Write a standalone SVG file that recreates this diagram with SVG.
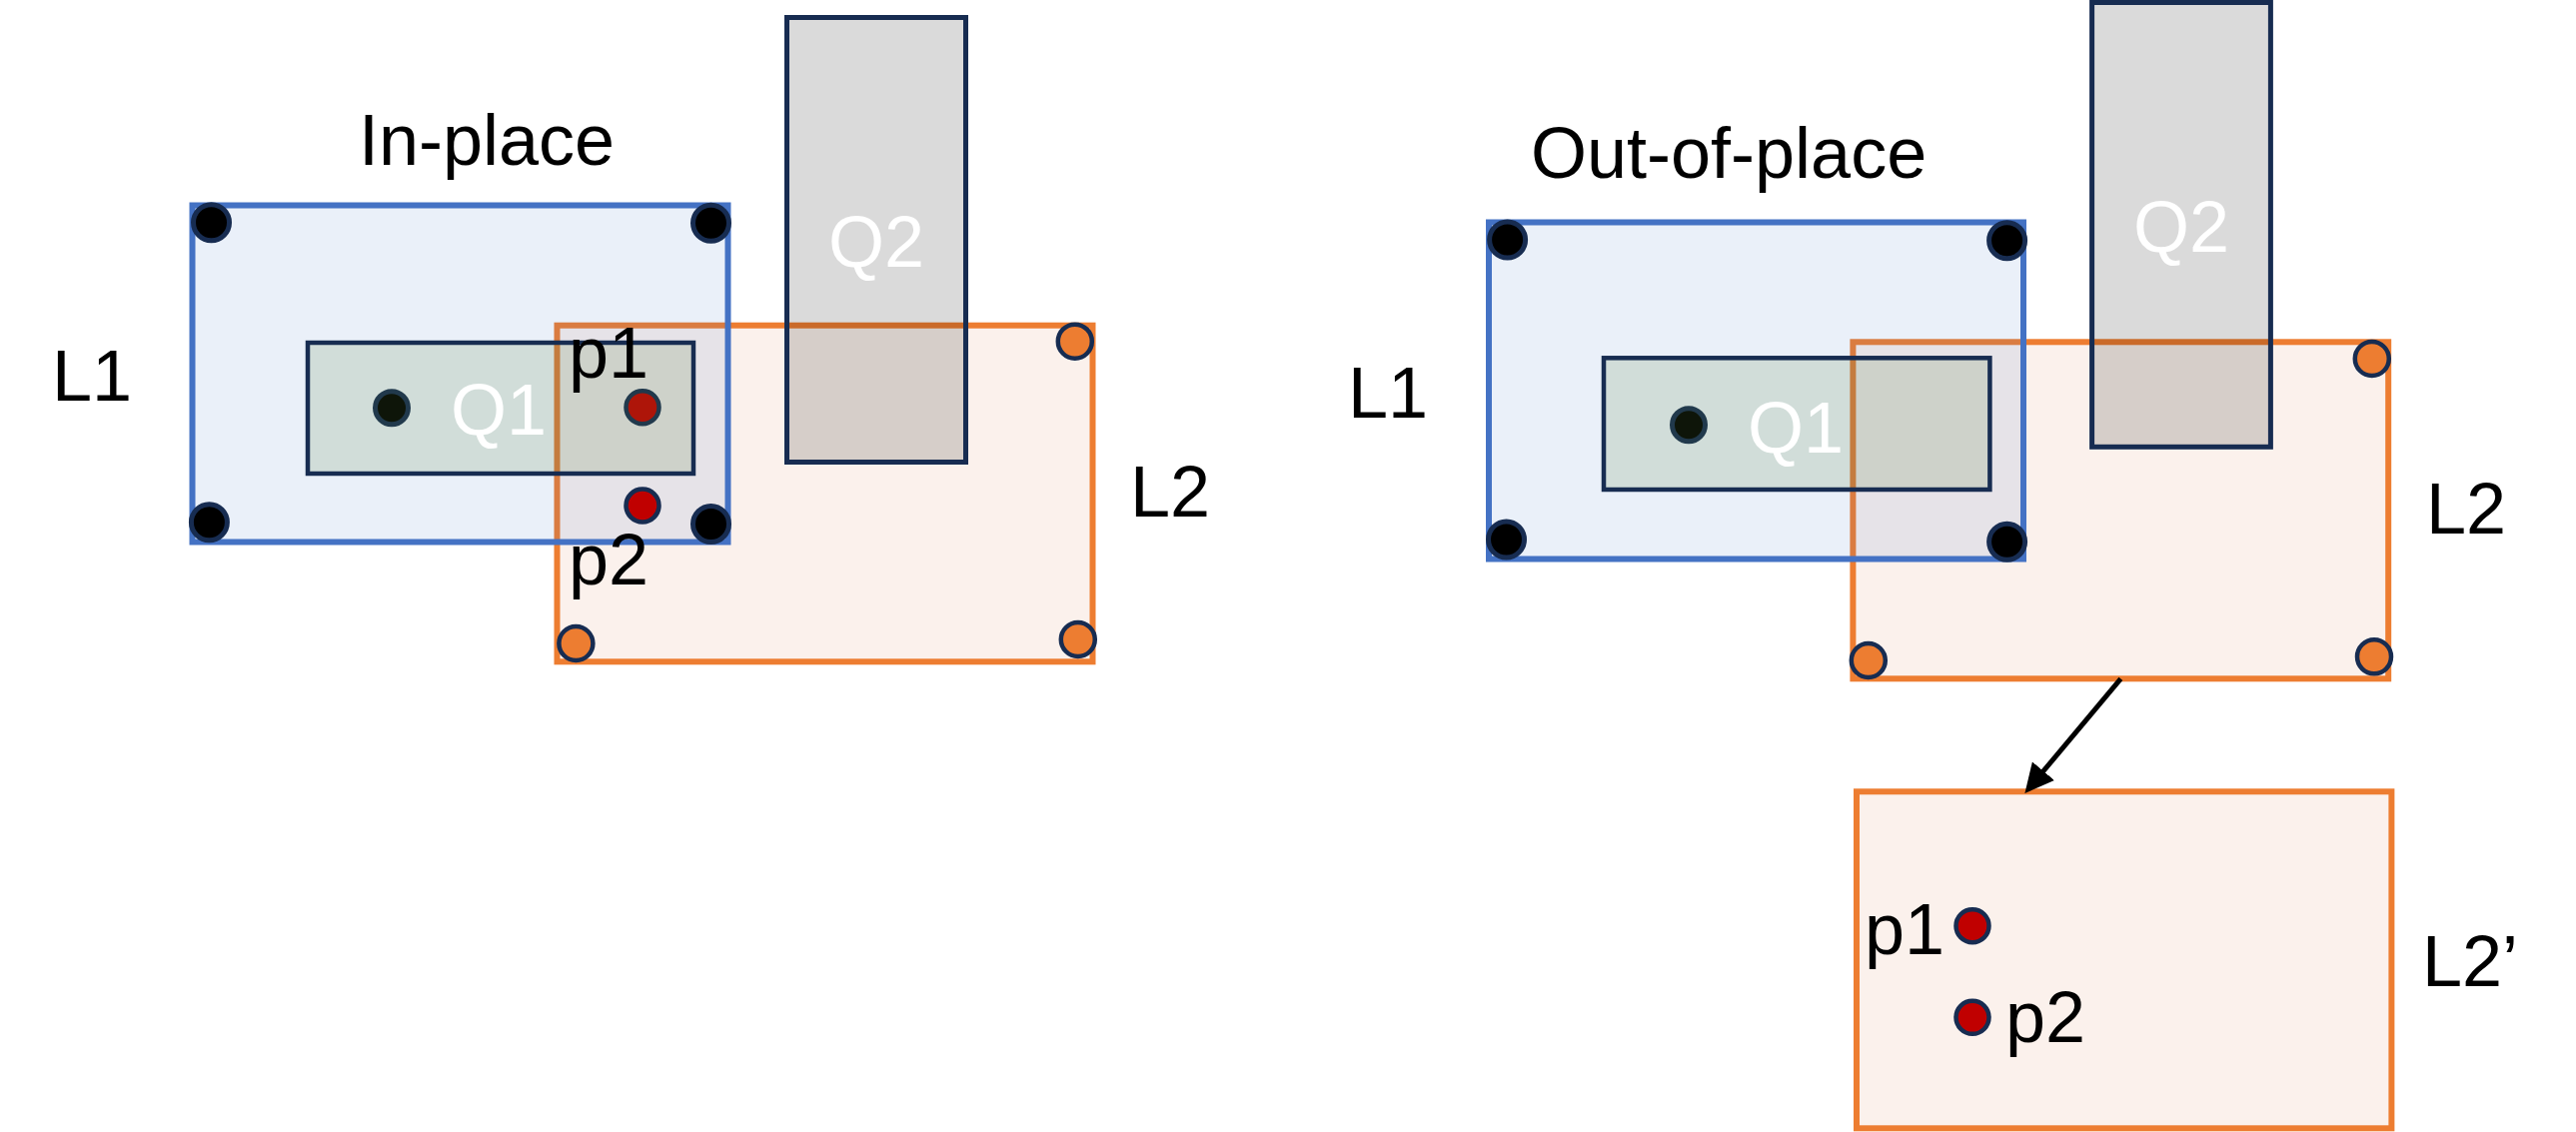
<svg xmlns="http://www.w3.org/2000/svg" width="2578" height="1133" viewBox="0 0 2578 1133">
<style>
  .l1 { fill: #4472C4; fill-opacity: 0.11; stroke: #4472C4; stroke-width: 6; }
  .l2 { fill: #FBF1EC; stroke: #ED7D31; stroke-width: 6; }
  .q1 { fill: #548235; fill-opacity: 0.165; stroke: #172C51; stroke-width: 4.5; }
  .q2 { fill: #000000; fill-opacity: 0.145; stroke: #172C51; stroke-width: 5; }
  .dk { fill: #000000; stroke: #172C51; stroke-width: 5; }
  .or { fill: #ED7D31; stroke: #172C51; stroke-width: 4.5; }
  .rd { fill: #C00000; stroke: #172C51; stroke-width: 4.5; }
  .t { font-family: "Liberation Sans", Arial, sans-serif; font-size: 72px; fill: #000000; }
  .w { font-family: "Liberation Sans", Arial, sans-serif; font-size: 72px; fill: #FFFFFF; }
  .conn { stroke: #000000; stroke-width: 5; fill: none; }
</style>
<defs>
  <marker id="ah" viewBox="0 0 10 10" refX="2" refY="5" markerWidth="29" markerHeight="29" markerUnits="userSpaceOnUse" orient="auto">
    <path d="M0,0 L10,5 L0,10 z" fill="#000000"/>
  </marker>
</defs>
<rect x="0" y="0" width="2578" height="1133" fill="#FFFFFF"/>

<!-- ===== LEFT PANEL: In-place ===== -->
<text id="title-inplace" class="t" x="359" y="165">In-place</text>

<g id="L2-left">
  <rect class="l2" x="557.5" y="325.7" width="536" height="336.6"/>
</g>
<g id="L1-left">
  <rect class="l1" x="192.5" y="205.5" width="536" height="337"/>
</g>
<g id="p1-left-dot">
  <circle class="rd" cx="643" cy="407.7" r="16.5"/>
</g>
<g id="Q1-left">
  <circle class="dk" cx="392" cy="408.3" r="16.5" stroke-width="4.5"/>
  <rect class="q1" x="308" y="343" width="386" height="131"/>
  <text class="w" x="499" y="435" text-anchor="middle">Q1</text>
</g>
<g id="Q2-left">
  <rect class="q2" x="787.5" y="17.5" width="179" height="445"/>
  <text class="w" x="877" y="266.7" text-anchor="middle">Q2</text>
</g>
<g id="L1-left-corners">
  <circle class="dk" cx="211.5" cy="222.7" r="18"/>
  <circle class="dk" cx="711.5" cy="223.3" r="18"/>
  <circle class="dk" cx="209.4" cy="522.7" r="18"/>
  <circle class="dk" cx="711.5" cy="524.5" r="18"/>
</g>
<g id="L2-left-corners">
  <circle class="or" cx="1075.8" cy="341.7" r="17"/>
  <circle class="or" cx="576.4" cy="644" r="17"/>
  <circle class="or" cx="1078.8" cy="640" r="17"/>
</g>
<g id="p2-left-dot">
  <circle class="rd" cx="643" cy="506" r="16.5"/>
</g>
<text id="p1-left-label" class="t" x="569" y="378.3">p1</text>
<text id="p2-left-label" class="t" x="569" y="585">p2</text>
<text id="L1-left-label" class="t" x="52" y="401">L1</text>
<text id="L2-left-label" class="t" x="1131" y="517">L2</text>

<!-- ===== RIGHT PANEL: Out-of-place ===== -->
<text id="title-outofplace" class="t" x="1532" y="178">Out-of-place</text>

<g id="L2-right">
  <rect class="l2" x="1854.4" y="342.3" width="535.8" height="337"/>
</g>
<g id="L1-right">
  <rect class="l1" x="1490" y="222.5" width="535" height="337"/>
</g>
<g id="Q1-right">
  <circle class="dk" cx="1690" cy="425.3" r="16.5" stroke-width="4.5"/>
  <rect class="q1" x="1605" y="358.3" width="386.4" height="131.7"/>
  <text class="w" x="1797" y="453.3" text-anchor="middle">Q1</text>
</g>
<g id="Q2-right">
  <rect class="q2" x="2093.6" y="2.5" width="178.8" height="444.8"/>
  <text class="w" x="2183" y="251.7" text-anchor="middle">Q2</text>
</g>
<g id="L1-right-corners">
  <circle class="dk" cx="1508.6" cy="240" r="18"/>
  <circle class="dk" cx="2008.6" cy="240.7" r="18"/>
  <circle class="dk" cx="1507.5" cy="540" r="18"/>
  <circle class="dk" cx="2008.6" cy="542.3" r="18"/>
</g>
<g id="L2-right-corners">
  <circle class="or" cx="2373.8" cy="359" r="17"/>
  <circle class="or" cx="1869.8" cy="661" r="17"/>
  <circle class="or" cx="2376" cy="657.3" r="17"/>
</g>
<text id="L1-right-label" class="t" x="1349" y="418">L1</text>
<text id="L2-right-label" class="t" x="2428" y="533.5">L2</text>

<g id="L2prime">
  <rect class="l2" x="1858" y="792.3" width="535.4" height="337"/>
  <circle class="rd" cx="1974" cy="926.7" r="16.5"/>
  <circle class="rd" cx="1974" cy="1018.3" r="16.5"/>
  <text class="t" x="1866" y="955">p1</text>
  <text class="t" x="2007" y="1042.7">p2</text>
</g>
<text id="L2prime-label" class="t" x="2424" y="987">L2’</text>

<g id="connectors">
  <line class="conn" x1="2122.4" y1="679.3" x2="2041.3" y2="776.2" marker-end="url(#ah)"/>
</g>
</svg>
